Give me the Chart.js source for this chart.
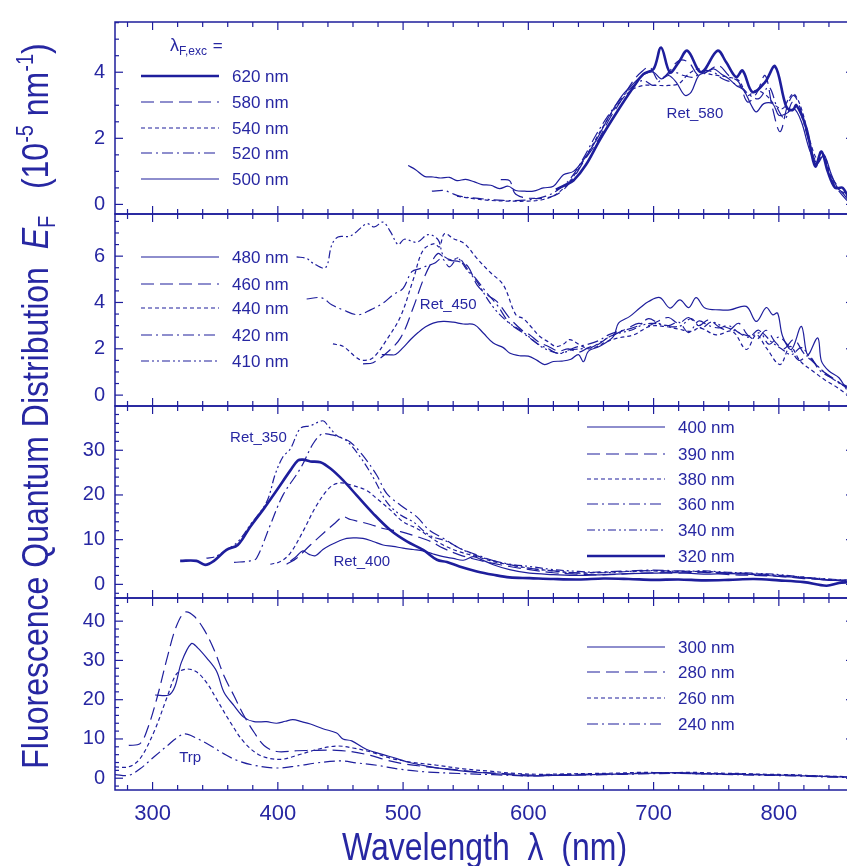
<!DOCTYPE html>
<html><head><meta charset="utf-8">
<script src="https://cdn.jsdelivr.net/npm/chart.js@4.4.1/dist/chart.umd.min.js"></script>
<style>
html,body{margin:0;padding:0;background:#fff;overflow:hidden;}
#wrap{position:relative;width:860px;height:866px;}
</style></head><body>
<div id="wrap"><canvas id="c"></canvas></div>
<script>
// ---------- tick labels ----------
const xTicks = [300, 400, 500, 600, 700, 800];
const yTicks1 = [0, 2, 4];
const yTicks2 = [0, 2, 4, 6];
const yTicks3 = [0, 10, 20, 30];
const yTicks4 = [0, 10, 20, 30, 40];

// ---------- panel 1: retinal excitation 500-620 nm ----------
const ex620 = [[622,0.45],[630,0.6],[636,0.72],[646,1.2],[657,1.95],[670,2.75],[684,3.55],[692,3.95],[700,4.1],[706,4.75],[713,4.0],[720,4.3],[727,4.65],[738,4.0],[751,4.65],[758,4.3],[766,3.85],[771,4.05],[779,3.4],[789,3.7],[797,4.18],[806,2.95],[811,2.85],[814,3.0],[822,2.3],[829,1.15],[834,1.6],[839,1.0],[845,0.5],[851,0.5],[858,0.0]];
const ex580 = [[578,0.75],[585,0.72],[589,0.35],[595,0.22],[605,0.18],[615,0.2],[625,0.35],[635,0.75],[645,1.35],[655,1.9],[665,2.6],[675,3.2],[683,3.7],[690,4.0],[697,4.15],[704,3.75],[712,4.0],[720,4.35],[728,4.3],[736,3.9],[744,4.05],[752,4.2],[760,3.9],[768,3.7],[775,3.1],[782,3.35],[789,3.9],[795,2.9],[801,2.2],[807,3.0],[812,3.3],[818,2.8],[825,1.8],[830,1.2],[835,1.5],[841,0.8],[848,0.4],[856,0.05]];
const ex540 = [[543,0.25],[555,0.18],[570,0.12],[585,0.1],[600,0.1],[612,0.15],[622,0.3],[632,0.65],[642,1.2],[652,1.85],[662,2.5],[672,3.05],[682,3.45],[692,3.6],[702,3.6],[712,3.6],[720,3.65],[728,3.95],[736,4.1],[744,3.95],[752,3.9],[760,3.85],[768,3.75],[775,3.3],[782,3.45],[790,3.3],[797,3.0],[803,2.9],[808,3.2],[812,3.35],[818,2.9],[825,1.9],[831,1.35],[836,1.5],[842,0.8],[848,0.45],[856,0.2]];
const ex520 = [[523,0.4],[533,0.42],[538,0.35],[545,0.25],[560,0.18],[580,0.12],[600,0.14],[614,0.25],[624,0.45],[634,0.8],[644,1.4],[654,2.1],[664,2.7],[674,3.2],[684,3.6],[692,3.75],[700,3.6],[708,3.85],[716,4.0],[724,3.9],[732,3.85],[740,4.05],[748,4.0],[755,3.8],[762,3.7],[770,3.55],[777,3.3],[784,3.2],[792,3.55],[799,2.9],[805,2.6],[811,3.1],[817,2.8],[824,1.9],[830,1.3],[835,1.45],[841,0.9],[848,0.5],[856,0.1]];
const ex500 = [[504,1.18],[510,1.05],[517,0.85],[524,0.83],[530,0.8],[537,0.82],[543,0.72],[550,0.76],[557,0.68],[563,0.6],[570,0.58],[577,0.48],[584,0.55],[590,0.42],[597,0.4],[604,0.4],[612,0.5],[620,0.55],[628,0.9],[636,1.0],[645,1.4],[655,2.0],[665,2.7],[675,3.3],[685,3.7],[693,3.95],[700,4.0],[706,3.8],[712,3.9],[718,3.7],[725,3.3],[730,3.4],[736,3.9],[742,4.0],[748,4.1],[754,3.95],[760,3.8],[766,3.6],[772,3.45],[778,3.0],[782,2.8],[788,3.05],[795,3.05],[800,2.7],[806,2.75],[812,2.9],[818,2.5],[825,1.6],[831,1.25],[836,1.5],[842,0.9],[848,0.45],[856,0.3]];

// ---------- panel 2: excitation 410-480 nm ----------
const ex480 = [[483,1.75],[490,1.74],[494,1.75],[500,2.05],[506,2.4],[512,2.7],[518,2.95],[524,3.11],[532,3.18],[540,3.15],[548,3.07],[557,3.04],[564,2.68],[572,2.25],[580,2.05],[585,1.82],[593,1.7],[600,1.68],[607,1.5],[613,1.32],[620,1.45],[627,1.47],[634,1.55],[640,1.75],[644,1.44],[648,1.9],[657,2.11],[668,2.54],[672,3.11],[681,3.4],[689,3.76],[696,4.04],[705,4.21],[713,3.76],[721,4.11],[728,3.78],[734,4.21],[741,3.76],[753,3.68],[761,3.68],[774,3.83],[782,3.18],[790,3.78],[795,3.47],[799,3.54],[803,2.54],[810,1.97],[818,2.97],[823,1.75],[831,2.47],[834,1.47],[840,1.04],[848,0.75],[854,0.25]];
const ex460 = [[468,1.35],[476,1.4],[487,1.83],[498,2.47],[508,3.76],[516,4.97],[523,5.76],[528,6.12],[532,5.97],[537,5.83],[545,5.76],[552,5.54],[559,4.76],[567,4.33],[575,4.04],[585,3.33],[596,2.75],[601,2.61],[608,2.3],[616,2.1],[624,1.9],[632,2.0],[640,1.85],[648,2.05],[656,2.2],[664,2.5],[672,2.7],[680,2.9],[688,3.1],[696,3.0],[704,3.2],[712,3.35],[720,3.1],[728,3.35],[736,3.0],[744,3.25],[752,2.95],[760,2.8],[768,3.1],[775,2.6],[782,2.4],[790,2.8],[797,2.3],[804,2.0],[812,2.4],[820,1.8],[828,1.4],[836,1.0],[844,0.7],[852,0.4],[856,0.3]];
const ex440 = [[444,2.21],[452,2.11],[463,1.61],[468,1.5],[476,1.61],[487,2.4],[498,3.4],[508,4.97],[516,6.26],[525,6.54],[529,6.4],[533,6.97],[540,6.76],[549,6.54],[559,5.9],[569,5.33],[580,4.76],[590,3.47],[596,3.3],[603,2.9],[609,2.54],[616,2.3],[622,2.1],[628,2.2],[633,2.4],[640,2.2],[648,2.0],[655,2.1],[662,2.3],[672,2.47],[684,2.6],[697,2.97],[708,2.97],[720,2.85],[730,2.75],[737,2.9],[750,2.6],[763,2.75],[774,1.97],[782,2.6],[790,2.04],[801,1.32],[809,2.1],[817,1.47],[827,1.04],[838,0.61],[846,0.35],[854,0.04]];
const ex420 = [[423,4.15],[435,4.2],[443,3.9],[452,3.68],[464,3.47],[474,3.68],[484,3.97],[492,4.33],[500,4.61],[507,5.33],[514,5.47],[519,5.58],[525,5.69],[531,5.9],[537,5.54],[544,5.93],[552,5.4],[559,4.97],[567,4.4],[575,3.9],[585,3.11],[596,2.68],[601,2.47],[608,2.2],[616,2.0],[624,1.8],[632,1.95],[640,2.1],[648,2.2],[656,2.35],[664,2.6],[672,2.75],[680,2.85],[688,3.0],[696,3.3],[704,3.1],[712,3.0],[720,3.15],[728,2.7],[736,3.2],[744,3.0],[752,2.9],[760,3.0],[768,2.7],[776,2.5],[784,2.8],[792,2.2],[800,2.5],[808,2.1],[816,1.5],[824,1.7],[832,1.1],[840,0.8],[848,0.55],[856,0.35]];
const ex410 = [[415,5.97],[423,5.9],[428,5.7],[438,5.5],[443,6.47],[448,6.83],[458,6.87],[471,7.4],[477,7.26],[484,7.47],[490,7.05],[496,6.5],[501,6.73],[511,6.6],[520,6.93],[528,6.7],[532,6.04],[539,5.83],[544,5.9],[551,5.4],[559,4.9],[567,4.18],[575,3.6],[585,3.1],[593,2.83],[601,2.5],[610,2.1],[618,1.9],[626,1.8],[634,1.95],[642,2.0],[650,2.05],[658,2.3],[666,2.55],[674,2.7],[682,2.8],[690,3.0],[698,3.1],[706,3.05],[714,2.95],[722,3.0],[730,3.3],[738,2.9],[746,3.15],[754,3.0],[762,2.85],[770,2.65],[778,2.55],[786,2.7],[794,2.3],[802,2.0],[810,1.75],[818,2.05],[826,1.55],[834,1.1],[842,0.75],[850,0.45],[856,0.3]];

// ---------- panel 3: excitation 320-400 nm ----------
const ex400 = [[410,5.2],[415,6.3],[420,7.5],[425,6.7],[430,6.4],[436,7.8],[442,8.8],[448,9.6],[455,10.3],[462,10.4],[468,10.3],[476,9.6],[484,8.8],[492,8.5],[500,8.1],[508,7.8],[516,7.5],[524,6.8],[532,6.2],[540,5.8],[548,5.4],[556,6.2],[562,5.6],[572,4.4],[585,3.3],[601,2.5],[620,2.2],[640,2.0],[660,2.2],[680,2.4],[700,2.5],[720,2.6],[740,2.3],[760,2.4],[780,2.2],[800,1.8],[820,1.5],[840,0.9],[856,1.0]];
const ex390 = [[407,4.5],[415,5.85],[426,8.8],[439,12.1],[446,13.8],[452,15.1],[458,14.5],[466,14.0],[474,13.4],[484,12.5],[498,11.8],[511,10.7],[522,9.6],[532,8.1],[545,6.6],[559,5.5],[572,4.7],[585,4.0],[601,3.3],[620,2.6],[640,2.3],[660,2.1],[680,2.4],[700,2.6],[720,2.5],[740,2.7],[760,2.2],[780,2.0],[800,1.8],[820,1.3],[840,1.0],[856,0.6]];
const ex380 = [[394,4.5],[402,5.1],[410,7.0],[420,11.8],[431,17.7],[442,21.8],[450,22.7],[460,22.1],[471,21.0],[479,19.2],[490,16.6],[500,14.0],[511,12.5],[521,10.7],[532,8.8],[545,7.3],[559,6.2],[572,5.1],[585,4.4],[601,3.6],[620,3.0],[640,2.5],[660,2.7],[680,2.9],[700,3.0],[720,2.8],[740,2.9],[760,2.5],[780,2.3],[800,2.0],[820,1.6],[840,1.1],[856,0.8]];
const ex360 = [[365,4.9],[378,5.26],[383,5.85],[394,13.3],[404,19.9],[418,25.9],[428,31.4],[435,33.6],[442,33.5],[450,32.9],[458,31.8],[468,28.8],[479,24.4],[487,20.3],[498,17.7],[511,15.1],[521,12.1],[532,10.3],[545,8.1],[559,6.6],[572,5.3],[585,4.4],[601,3.6],[620,3.0],[640,2.6],[660,2.8],[680,3.0],[700,3.2],[720,3.0],[740,2.8],[760,2.6],[780,2.4],[800,2.0],[820,1.5],[840,1.0],[856,0.7]];
const ex340 = [[343,5.85],[350,6.2],[359,7.7],[368,9.5],[378,13.3],[391,18.4],[398,24.7],[404,28.5],[410,30.3],[418,34.9],[426,35.5],[436,36.6],[440,35.5],[447,33.3],[455,32.1],[466,28.4],[476,24.0],[487,18.4],[498,15.5],[508,14.0],[521,11.0],[535,9.6],[548,7.7],[561,6.2],[575,5.1],[588,4.4],[601,4.0],[620,3.3],[640,2.9],[660,2.6],[680,2.9],[700,3.1],[720,2.9],[740,3.0],[760,2.7],[780,2.5],[800,2.2],[820,1.6],[840,1.2],[856,0.9]];
const ex320 = [[322,5.26],[335,5.26],[342,4.37],[349,5.26],[359,7.7],[368,8.8],[378,12.9],[389,17.0],[399,21.0],[410,25.5],[416,27.7],[420,27.9],[426,27.5],[434,27.3],[442,25.9],[452,23.3],[463,19.9],[476,15.9],[490,12.1],[503,9.6],[516,7.7],[527,5.5],[535,5.0],[545,4.0],[559,2.9],[572,2.15],[585,1.56],[601,1.4],[620,1.2],[640,1.1],[660,1.3],[680,1.2],[700,1.0],[720,1.1],[740,0.9],[760,1.0],[780,1.2],[800,0.9],[820,0.5],[838,-0.3],[848,0.3],[856,0.5]];

// ---------- panel 4: excitation 240-300 nm ----------
const ex300 = [[302,21.2],[313,21.2],[318,23.5],[323,29.5],[331,34.3],[336,33.2],[343,30.7],[351,27.3],[357,21.9],[365,18.5],[373,15.5],[381,14.4],[391,14.4],[399,14.0],[406,14.5],[412,14.9],[419,14.4],[426,13.8],[436,12.6],[447,11.5],[452,10.0],[459,9.5],[471,7.3],[482,6.2],[495,5.0],[505,4.0],[522,2.9],[543,2.0],[564,1.4],[585,0.9],[601,0.6],[620,0.7],[640,0.8],[660,1.0],[680,1.1],[700,1.3],[720,1.4],[740,1.2],[760,1.0],[780,0.9],[800,0.8],[820,0.6],[840,0.4],[856,0.3]];
const ex280 = [[281,8.35],[290,8.8],[296,12.6],[304,21.0],[312,31.1],[319,38.7],[326,42.3],[333,41.3],[341,37.9],[349,32.8],[357,26.1],[365,21.0],[373,15.9],[381,11.7],[389,8.35],[399,6.8],[415,7.0],[431,7.1],[447,7.1],[460,6.7],[474,5.8],[487,4.6],[500,3.7],[519,2.9],[538,2.3],[559,1.6],[580,1.2],[601,0.8],[620,0.9],[640,1.0],[660,1.1],[680,1.2],[700,1.4],[720,1.3],[740,1.1],[760,1.2],[780,1.0],[800,0.8],[820,0.7],[840,0.5],[856,0.3]];
const ex260 = [[270,2.9],[281,2.9],[290,5.0],[301,11.7],[312,21.0],[319,26.5],[327,27.8],[335,27.1],[343,24.4],[351,20.2],[362,14.3],[373,9.2],[386,5.8],[402,4.8],[415,5.8],[431,7.3],[447,8.2],[460,7.7],[474,6.7],[490,5.1],[506,4.1],[527,3.3],[548,2.4],[569,1.8],[590,1.2],[610,1.0],[630,1.1],[650,1.2],[670,1.3],[690,1.5],[710,1.4],[730,1.5],[750,1.3],[770,1.2],[790,1.0],[810,0.9],[830,0.6],[856,0.4]];
const ex240 = [[270,0.93],[281,0.76],[290,2.4],[301,5.4],[312,8.35],[319,10.2],[326,11.3],[335,10.2],[346,8.35],[357,6.2],[367,4.6],[381,3.3],[399,2.6],[415,3.1],[431,3.9],[450,4.4],[463,3.9],[479,3.3],[497,2.3],[519,1.6],[545,1.2],[572,0.9],[601,0.6],[630,0.8],[660,0.9],[690,1.1],[720,1.2],[750,1.0],[780,0.8],[810,0.6],[840,0.3],[856,0.2]];

// ---------- styling ----------
const LINE = '#1e1e9c';
const TEXT = '#2727a2';
const FONT = "'Liberation Sans', Arial, Helvetica, sans-serif";
const DASH = { solid: [], long: [13, 6], short: [4, 3], dashdot: [11, 4, 2, 4], dashdotdot: [8, 3, 2, 3, 2, 3] };

const panels = [
  { id: 'y1', min: -0.29, max: 5.52, major: 2, minor: 0.5, ticks: yTicks1,
    legendX: 26, rows: [54, 80, 106, 131, 157], header: true,
    series: [ ['620 nm', ex620, 'solid', 2.6], ['580 nm', ex580, 'long', 1.2], ['540 nm', ex540, 'short', 1.2], ['520 nm', ex520, 'dashdot', 1.2], ['500 nm', ex500, 'solid', 1.2] ],
    notes: [ ['Ret_580', 733, 2.73] ] },
  { id: 'y2', min: -0.47, max: 7.82, major: 2, minor: 0.5, ticks: yTicks2,
    legendX: 26, rows: [43, 70, 94, 121, 147],
    series: [ ['480 nm', ex480, 'solid', 1.2], ['460 nm', ex460, 'long', 1.2], ['440 nm', ex440, 'short', 1.2], ['420 nm', ex420, 'dashdot', 1.2], ['410 nm', ex410, 'dashdotdot', 1.2] ],
    notes: [ ['Ret_450', 536, 3.88] ] },
  { id: 'y3', min: -3.05, max: 39.9, major: 10, minor: 2, ticks: yTicks3,
    legendX: 472, rows: [21, 48, 73, 98, 124, 150],
    series: [ ['400 nm', ex400, 'solid', 1.2], ['390 nm', ex390, 'long', 1.2], ['380 nm', ex380, 'short', 1.2], ['360 nm', ex360, 'dashdot', 1.2], ['340 nm', ex340, 'dashdotdot', 1.2], ['320 nm', ex320, 'solid', 2.6] ],
    notes: [ ['Ret_350', 384.5, 32.7], ['Ret_400', 467, 5.1] ] },
  { id: 'y4', min: -3.0, max: 45.9, major: 10, minor: 2, ticks: yTicks4,
    legendX: 472, rows: [49, 74, 100, 126],
    series: [ ['300 nm', ex300, 'solid', 1.2], ['280 nm', ex280, 'long', 1.2], ['260 nm', ex260, 'short', 1.2], ['240 nm', ex240, 'dashdot', 1.2] ],
    notes: [ ['Trp', 330, 5.1] ] }
];

const datasets = [];
panels.forEach(p => p.series.forEach(([label, pts, dash, w]) => {
  datasets.push({
    label, yAxisID: p.id,
    data: pts.map(([x, y]) => ({ x, y })),
    borderColor: LINE, borderWidth: w, borderDash: DASH[dash],
    pointRadius: 0, tension: 0.35, fill: false
  });
}));

const scales = {
  x: {
    type: 'linear', min: 270, max: 860,
    grid: { display: false, drawTicks: false }, border: { display: false },
    ticks: { color: TEXT, font: { family: FONT, size: 22 }, padding: 11, autoSkip: false, maxRotation: 0 },
    afterBuildTicks: s => { s.ticks = xTicks.map(v => ({ value: v })); },
    afterFit: s => { s.height = 76; }
  }
};
// stacked left axes: last defined is placed on top
[...panels].reverse().forEach(p => {
  scales[p.id] = {
    type: 'linear', position: 'left', stack: 'panels', stackWeight: 1,
    min: p.min, max: p.max,
    grid: { display: false, drawTicks: false }, border: { display: false },
    ticks: { color: TEXT, font: { family: FONT, size: 20 }, padding: 10, autoSkip: false },
    afterBuildTicks: s => { s.ticks = p.ticks.map(v => ({ value: v })); },
    afterFit: s => { s.width = 115; }
  };
});

function seg(ctx, x1, y1, x2, y2) { ctx.beginPath(); ctx.moveTo(x1, y1); ctx.lineTo(x2, y2); ctx.stroke(); }

const framePlugin = {
  id: 'frame',
  afterDatasetsDraw(chart) {
    const { ctx, chartArea: a, scales: sc } = chart;
    const xs = sc.x;
    ctx.save();
    ctx.strokeStyle = LINE; ctx.lineWidth = 1.5; ctx.setLineDash([]);
    panels.forEach(p => {
      const s = sc[p.id];
      ctx.strokeRect(a.left, s.top, a.right - a.left, s.bottom - s.top);
      ctx.lineWidth = 1.2;
      for (let v = 280; v <= 860; v += 20) {
        const px = xs.getPixelForValue(v);
        const L = v % 100 === 0 ? 8 : 5;
        seg(ctx, px, s.top, px, s.top + L);
        seg(ctx, px, s.bottom, px, s.bottom - L);
      }
      const start = Math.ceil(p.min / p.minor) * p.minor;
      for (let i = 0; start + i * p.minor <= p.max; i++) {
        const v = start + i * p.minor;
        const py = s.getPixelForValue(v);
        const r = v / p.major;
        const L = Math.abs(r - Math.round(r)) < 1e-6 ? 8 : 4;
        seg(ctx, a.left, py, a.left + L, py);
        seg(ctx, a.right, py, a.right - L, py);
      }
      ctx.lineWidth = 1.5;
    });
    ctx.restore();
  }
};

const legendPlugin = {
  id: 'panelLegends',
  afterDatasetsDraw(chart) {
    const { ctx, chartArea: a, scales: sc } = chart;
    ctx.save();
    let di = 0;
    panels.forEach(p => {
      const s = sc[p.id];
      const x0 = a.left + p.legendX;
      p.series.forEach((sr, i) => {
        const ds = chart.data.datasets[di++];
        const y = s.top + p.rows[i];
        ctx.strokeStyle = ds.borderColor; ctx.lineWidth = ds.borderWidth;
        ctx.setLineDash(ds.borderDash);
        seg(ctx, x0, y, x0 + 78, y);
        ctx.setLineDash([]);
        ctx.fillStyle = TEXT; ctx.font = `17px ${FONT}`;
        ctx.textAlign = 'left'; ctx.textBaseline = 'middle';
        ctx.fillText(ds.label, x0 + 91, y + 1);
      });
      if (p.header) {
        const hx = a.left + 55, hy = s.top + 23;
        ctx.fillStyle = TEXT; ctx.textBaseline = 'alphabetic'; ctx.textAlign = 'left';
        ctx.font = `18px ${FONT}`;
        ctx.fillText('λ', hx, hy + 6);
        const w1 = ctx.measureText('λ').width;
        ctx.font = `12px ${FONT}`;
        ctx.fillText('F,exc', hx + w1, hy + 10);
        const w2 = ctx.measureText('F,exc').width;
        ctx.font = `17px ${FONT}`;
        ctx.fillText(' =', hx + w1 + w2 + 1, hy + 6);
      }
      ctx.font = `15px ${FONT}`; ctx.fillStyle = TEXT;
      ctx.textAlign = 'center'; ctx.textBaseline = 'middle';
      p.notes.forEach(([t, x, y]) => {
        ctx.fillText(t, sc.x.getPixelForValue(x), s.getPixelForValue(y));
      });
    });
    ctx.restore();
  }
};

const titlePlugin = {
  id: 'titles',
  afterDraw(chart) {
    const { ctx, chartArea: a } = chart;
    ctx.save();
    ctx.fillStyle = TEXT; ctx.textBaseline = 'alphabetic'; ctx.textAlign = 'left';
    const parts = [
      ['Fluorescence Quantum Distribution  ', `32px ${FONT}`, 0],
      ['E', `italic 32px ${FONT}`, 0],
      ['F', `20px ${FONT}`, 6],
      ['   (10', `32px ${FONT}`, 0],
      ['-5', `20px ${FONT}`, -13],
      [' nm', `32px ${FONT}`, 0],
      ['-1', `20px ${FONT}`, -13],
      [')', `32px ${FONT}`, 0]
    ];
    let total = 0;
    parts.forEach(pt => { ctx.font = pt[1]; total += ctx.measureText(pt[0]).width; });
    ctx.translate(34, (a.top + a.bottom) / 2);
    ctx.rotate(-Math.PI / 2);
    ctx.scale(1, 1.15);
    let x = -total / 2;
    parts.forEach(([t, f, dy]) => {
      ctx.font = f; ctx.fillText(t, x, 12 + dy); x += ctx.measureText(t).width;
    });
    ctx.restore();
    ctx.save();
    ctx.fillStyle = TEXT; ctx.textAlign = 'center'; ctx.textBaseline = 'alphabetic';
    ctx.translate((a.left + a.right) / 2, 860);
    ctx.scale(1, 1.2);
    ctx.font = `32px ${FONT}`;
    ctx.fillText('Wavelength  λ  (nm)', 0, 0);
    ctx.restore();
  }
};

new Chart(document.getElementById('c'), {
  type: 'line',
  data: { datasets },
  options: {
    responsive: true, maintainAspectRatio: false, animation: false,
    layout: { padding: { top: 17, right: 6, left: 0, bottom: 0 } },
    plugins: { legend: { display: false }, tooltip: { enabled: false } },
    scales
  },
  plugins: [framePlugin, legendPlugin, titlePlugin]
});
</script>
</body></html>
